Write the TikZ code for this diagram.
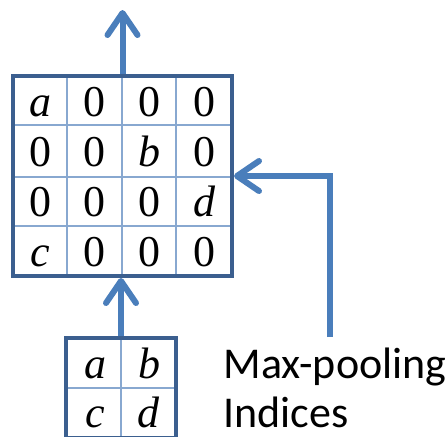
\documentclass[tikz,border=0pt]{standalone}
\usepackage{fontspec}
\newfontfamily\capfont{Carlito}
\newfontfamily\cellfont{Liberation Serif}
\usetikzlibrary{arrows.meta}

\definecolor{frameblue}{RGB}{59,95,143}
\definecolor{arrowblue}{RGB}{74,126,187}
\definecolor{lineblue}{RGB}{136,168,208}

\tikzset{
	gridframe/.style={draw=frameblue, line width=2pt, rectangle, inner sep=0pt},
	gridline/.style={draw=lineblue, line width=0.8pt},
	flow/.style={draw=arrowblue, line width=3pt, -{Straight Barb[length=11pt,width=15pt,round]}},
	cell/.style={inner sep=0pt, font=\cellfont\fontsize{22}{26}\selectfont},
	caption/.style={anchor=base west, inner sep=0pt, font=\capfont\fontsize{22}{26}\selectfont},
}

\begin{document}
\begin{tikzpicture}[x=0.5pt, y=-0.5pt]
		\clip (0,0) rectangle (448,436);

		% unpooled 4x4 map
		\foreach \gx in {67,122,176}
			\draw[gridline] (\gx,76) -- (\gx,276);
		\foreach \gy in {125,177,226}
			\draw[gridline] (13,\gy) -- (232,\gy);
		\node[gridframe, minimum width=109.5pt, minimum height=100pt] (big) at (122.5,176) {};
		\foreach \v [count=\i from 0] in {\textit{a},0,0,0, 0,0,\textit{b},0, 0,0,0,\textit{d}, \textit{c},0,0,0} {
			\pgfmathtruncatemacro\col{mod(\i,4)}
			\pgfmathtruncatemacro\rw{div(\i,4)}
			\node[cell, anchor=base] (u\i) at ({40+54.7*\col},{116+50.2*\rw}) {\v};
		}

		% pooled 2x2 map
		\draw[gridline] (121,338) -- (121,438);
		\draw[gridline] (66,388) -- (176,388);
		\node[gridframe, minimum width=55pt, minimum height=50pt] (small) at (121,388) {};
		\foreach \v [count=\i from 0] in {a,b,c,d} {
			\pgfmathtruncatemacro\col{mod(\i,2)}
			\pgfmathtruncatemacro\rw{div(\i,2)}
			\node[cell, anchor=base] (p\i) at ({95+54*\col},{378+49*\rw}) {\textit{\v}};
		}

		% arrows
		\coordinate (top) at (120,10);
		\coordinate (idx) at (330,337);
		\draw[flow] (big.north) -- (big.north |- top);
		\draw[flow] (small.north) -- (small.north |- big.south);
		\draw[flow] (idx) |- (big.east);

		\node[caption] (maxpool) at (223,378) {Max-pooling};
		\node[caption] (indices) at (223,427) {Indices};
	\end{tikzpicture}
\end{document}
